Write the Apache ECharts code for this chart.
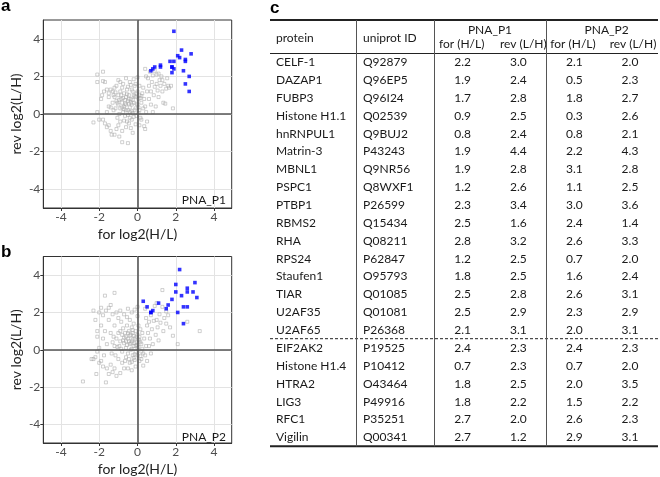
<!DOCTYPE html>
<html><head><meta charset="utf-8">
<script src="https://cdn.jsdelivr.net/npm/echarts@6/dist/echarts.min.js"></script>
<style>html,body{margin:0;padding:0;background:#fff}#c{width:660px;height:477px}</style>
</head><body><div id="c"></div>
<script>
// ---- table data (panel c) ----
const proteins = ['CELF-1','DAZAP1','FUBP3','Histone H1.1','hnRNPUL1','Matrin-3','MBNL1','PSPC1','PTBP1','RBMS2','RHA','RPS24','Staufen1','TIAR','U2AF35','U2AF65','EIF2AK2','Histone H1.4','HTRA2','LIG3','RFC1','Vigilin'];
const uniprotIds = ['Q92879','Q96EP5','Q96I24','Q02539','Q9BUJ2','P43243','Q9NR56','Q8WXF1','P26599','Q15434','Q08211','P62847','O95793','Q01085','Q01081','P26368','P19525','P10412','O43464','P49916','P35251','Q00341'];
const p1For = [2.2,1.9,1.7,0.9,0.8,1.9,1.9,1.2,2.3,2.5,2.8,1.2,1.8,2.5,2.5,2.1,2.4,0.7,1.8,1.8,2.7,2.7];
const p1Rev = [3.0,2.4,2.8,2.5,2.4,4.4,2.8,2.6,3.4,1.6,3.2,2.5,2.5,2.8,2.9,3.1,2.3,2.3,2.5,2.2,2.0,1.2];
const p2For = [2.1,0.5,1.8,0.3,0.8,2.2,3.1,1.1,3.0,2.4,2.6,0.7,1.6,2.6,2.3,2.0,2.4,0.7,2.0,1.5,2.6,2.9];
const p2Rev = [2.0,2.3,2.7,2.6,2.1,4.3,2.8,2.5,3.6,1.4,3.3,2.0,2.4,3.1,2.9,3.1,2.3,2.0,3.5,2.2,2.3,3.1];
const dividerAfter = 16; // rows above dashed line

// ---- axis ticks ----
const tickValues = [-4,-2,0,2,4];

// ---- background proteins (grey) ----
const greyP1 = [
[-2.3,-0.45],[-2.1,0.1],[-2.0,-0.3],[-2.1,2.1],[-1.8,2.25],[-2.1,1.7],[-1.8,1.75],[-1.7,1.7],[-1.75,1.2],[-1.85,1.0],[-1.9,0.8],[-1.6,1.3],[-1.5,1.1],[-1.5,0.9],[-1.4,1.3],[-1.3,1.2],[-1.2,1.4],[-1.1,1.5],[-1.0,1.8],[-0.9,1.7],[-1.25,0.2],[-1.5,0.4],[-1.6,0.1],[-1.8,-0.3],[-1.7,-0.5],[-1.6,-0.7],[-1.5,-0.6],[-1.4,-0.9],[-1.35,-1.1],[-1.2,-1.1],[-1.1,-0.8],[-1.0,-0.6],[-0.95,-1.2],[-0.8,-0.9],[-0.8,-1.5],[-0.5,-1.55],[-0.6,-0.7],[-0.45,-0.5],[-0.3,-0.3],[-0.25,-1.0],[-0.1,-0.55],[0.1,-0.6],[0.35,-0.65],[0.4,-0.8],[0.2,-0.3],
[-1.2,0.9],[-1.1,0.7],[-1.0,1.0],[-1.0,0.5],[-0.9,1.2],[-0.9,0.3],[-0.85,0.8],[-0.8,1.4],[-0.8,0.6],[-0.75,0.1],[-0.7,1.1],[-0.7,0.4],[-0.65,-0.1],[-0.6,0.9],[-0.6,0.5],[-0.55,1.3],[-0.5,0.2],[-0.5,0.7],[-0.45,1.0],[-0.4,0.35],[-0.4,-0.2],[-0.35,0.8],[-0.3,1.3],[-0.3,0.5],[-0.25,0.05],[-0.2,1.0],[-0.2,0.6],[-0.15,1.5],[-0.1,0.3],[-0.1,0.9],[-0.05,-0.1],[0.0,1.2],[0.0,0.5],[0.05,0.8],[0.1,0.2],[0.1,1.0],[0.15,-0.2],[0.2,0.6],[0.25,1.1],[0.3,0.3],[-1.3,0.6],[-1.15,0.3],[-1.05,-0.2],[-0.95,0.0],[-0.9,-0.4],[-0.85,1.0],[-0.65,0.75],[-0.55,-0.4],[-0.45,0.55],[-0.35,1.55],[-0.25,0.75],[-0.15,0.2],[-0.05,1.1],[0.05,0.35],[0.15,0.85],[-1.4,0.35],[-1.25,1.0],[-0.75,1.6],[-0.6,1.9],[-0.4,1.7],[-0.2,1.85],[-0.1,1.6],[0.0,1.95],[0.1,1.5],[0.3,1.4],[0.35,0.8],[0.4,0.4],[0.45,0.1],[0.5,-0.4],[-0.7,0.25],[-0.5,-0.05],[-0.3,0.15],
[-1.15,1.15],[-0.95,0.75],[-0.75,0.85],[-0.65,0.55],[-0.55,1.05],[-0.45,0.8],[-0.35,0.6],[-0.25,1.2],[-0.15,0.95],[-0.05,0.55],[0.05,0.05],[-0.4,0.1],[-0.6,0.2],[-0.8,0.35],[-1.05,0.6],[-0.2,-0.15],[0.2,0.95],[-0.5,1.45],[-0.7,-0.35],[-0.35,-0.75],
[0.4,2.4],[0.45,2.0],[0.55,1.9],[0.6,1.5],[0.7,1.2],[0.75,1.7],[0.8,2.05],[0.85,1.0],[0.9,1.45],[0.95,0.4],[1.0,2.1],[1.0,1.6],[1.05,1.25],[1.1,0.9],[1.15,1.8],[1.2,1.5],[1.25,2.0],[1.3,1.2],[1.35,0.6],[1.4,1.6],[1.45,0.55],[1.5,1.35],[1.55,1.9],[1.6,1.5],[1.65,1.4],[1.75,1.5],[1.85,0.3],[0.6,0.8],[0.7,0.5],[0.8,0.1],[0.5,1.2],[0.65,2.25],[0.9,2.3],[1.1,2.15],[1.3,1.8]
];
const greyP2 = [
[-2.85,-1.7],[-2.15,-1.3],[-1.65,-1.75],[-2.3,-0.5],[-2.2,-0.4],[-2.4,-0.5],[-2.1,-0.1],[-2.0,-0.7],[-2.0,0.1],[-1.9,-0.6],[-1.8,-0.9],[-1.75,-0.3],[-1.6,-1.0],[-1.5,-1.3],[-1.4,-0.8],[-1.3,-1.2],[-1.2,-1.0],[-1.1,-1.4],[-1.0,-0.5],[-0.9,-1.25],[-0.8,-0.7],[-0.7,-1.0],[-0.6,-0.4],[-0.5,-1.0],[-0.4,-0.7],[-0.3,-1.1],[-0.2,-0.45],[-0.1,-0.9],[0.0,-0.3],[0.2,-0.5],[0.3,-0.85],
[-2.3,2.1],[-2.2,1.6],[-2.0,2.0],[-1.9,2.25],[-1.8,1.85],[-1.7,2.9],[-1.65,2.1],[-1.5,2.25],[-1.4,2.4],[-1.2,3.05],[-1.3,1.9],[-1.1,2.0],[-2.1,1.0],[-2.1,0.7],[-1.9,1.3],[-1.8,0.6],[-1.7,1.0],[-1.6,0.3],[-1.5,1.6],[-1.4,0.9],[-1.3,0.4],[-1.2,1.3],[-1.1,0.6],[-1.0,1.7],[-0.95,0.2],[-0.9,1.0],[-0.85,1.5],[-0.8,-0.1],[-0.75,0.5],[-0.7,1.9],[-0.65,0.9],[-0.6,0.1],
[-0.55,1.3],[-0.5,0.6],[-0.5,-0.2],[-0.45,1.0],[-0.4,0.3],[-0.4,1.6],[-0.35,0.0],[-0.35,0.8],[-0.3,1.2],[-0.3,0.45],[-0.25,-0.3],[-0.25,0.9],[-0.2,0.2],[-0.2,1.4],[-0.15,0.6],[-0.1,1.0],[-0.1,-0.1],[-0.05,0.4],[0.0,0.8],[0.0,1.8],[0.05,0.15],[0.1,0.5],[0.1,-0.6],[0.15,1.1],[0.2,0.3],[0.25,0.9],[0.3,-0.2],[0.35,0.6],[-0.6,0.7],[-0.7,0.35],[-0.8,0.8],[-0.9,0.45],[-1.0,0.9],[-1.05,0.15],[-1.15,-0.3],[-1.25,0.7],[-1.35,-0.2],[-0.65,-0.6],[-0.55,0.25],[-0.45,-0.5],[-0.15,-0.25],[-0.05,0.7],[0.05,1.3],[0.15,-0.35],[0.25,0.05],[-0.85,0.05],[-0.75,1.15],[-0.55,1.75],[-0.3,2.0],[-0.15,2.15],[0.0,2.3],[-0.5,2.2],[-0.9,2.1],[-0.3,-0.65],[0.4,-0.3],[0.45,0.2],
[-0.45,0.45],[-0.35,0.35],[-0.25,0.55],[-0.15,0.35],[-0.05,0.25],[0.05,0.55],[0.15,0.4],[-0.4,0.75],[-0.2,0.75],[0.0,0.1],[-0.3,0.05],[-0.1,0.2],[0.1,0.7],[-0.6,0.45],[-0.7,0.65],[-0.5,0.9],[-0.25,1.05],[0.2,-0.1],[-0.15,-0.55],[-1.2,0.2],
[0.4,2.2],[0.45,1.7],[0.5,1.3],[0.55,0.9],[0.6,1.5],[0.65,0.6],[0.7,1.85],[0.75,1.1],[0.8,0.3],[0.85,1.55],[0.9,2.35],[0.95,0.8],[1.0,1.6],[1.05,1.2],[1.1,0.5],[1.15,1.9],[1.2,1.45],[1.3,3.2],[1.3,2.3],[1.35,1.0],[1.4,1.7],[1.5,1.4],[1.6,1.85],[1.7,1.2],[1.85,0.75],[2.1,0.3],[2.6,1.5],[3.25,1.0],[0.6,0.2],[0.7,-0.2],[0.5,-0.6],[1.0,2.5],[1.5,2.05]
];

const FONT = 'Lato, "Open Sans", sans-serif';
const chart = echarts.init(document.getElementById('c'), null, {renderer:'canvas'});

function xAx(gi){return {type:'value',gridIndex:gi,min:-4.92,max:4.92,
  axisLine:{show:true,onZero:false,lineStyle:{color:'#333',width:1}},
  axisTick:{show:true,length:3,customValues:tickValues,lineStyle:{color:'#333'}},
  axisLabel:{customValues:tickValues,margin:3,color:'#4d4d4d',fontSize:12,fontFamily:FONT},
  splitLine:{show:true,lineStyle:{color:'#e3e3e3',width:1}},
  name:'for log2(H/L)',nameLocation:'middle',nameGap:19,
  nameTextStyle:{fontSize:14,color:'#222',fontFamily:FONT}};}
function yAx(gi){return {type:'value',gridIndex:gi,min:-5,max:5,
  axisLine:{show:true,onZero:false,lineStyle:{color:'#333',width:1}},
  axisTick:{show:true,length:3,customValues:tickValues,lineStyle:{color:'#333'}},
  axisLabel:{customValues:tickValues,margin:3,color:'#4d4d4d',fontSize:12,fontFamily:FONT},
  splitLine:{show:true,lineStyle:{color:'#e3e3e3',width:1}},
  name:'rev log2(L/H)',nameLocation:'middle',nameGap:20,
  nameTextStyle:{fontSize:14,color:'#222',fontFamily:FONT}};}

function greySeries(gi, data){return {type:'scatter',xAxisIndex:gi,yAxisIndex:gi,data:data,
  symbol:'rect',symbolSize:3,silent:true,
  itemStyle:{color:'rgba(255,255,255,0)',borderColor:'#ababab',borderWidth:0.7},
  markLine:{silent:true,symbol:'none',label:{show:false},
    lineStyle:{color:'#555',width:1.6,type:'solid'},
    data:[{xAxis:0},{yAxis:0}]}};}
function blueSeries(gi, xs, ys){return {type:'scatter',xAxisIndex:gi,yAxisIndex:gi,
  data:xs.map((v,i)=>[v,ys[i]]),symbol:'rect',symbolSize:3.6,silent:true,z:5,
  itemStyle:{color:'#0000ff'}};}

// ---- table graphics ----
const TL=270, TR=658, TOP=20, HEAD=53.5, ROW0=62.3, RH=17.86;
const BOT = ROW0 + (proteins.length-1)*RH + 9;
const vCols=[356.5,434.5,546.5];
const cx={prot:276, uni:363, p1f:462.7, p1r:518.3, p2f:574.3, p2r:630};
const txt=(x,y,s,align,extra)=>Object.assign({type:'text',x:x,y:y,style:{text:s,font:'12px '+FONT,fill:'#1a1a1a',textAlign:align||'left',textVerticalAlign:'middle'}},extra||{});
const line=(x1,y1,x2,y2,w,dash,col)=>({type:'line',shape:{x1:x1,y1:y1,x2:x2,y2:y2},style:{stroke:col||'#222',lineWidth:w,lineDash:dash||null}});
const g=[];
g.push(line(TL,TOP,TR,TOP,2));
g.push(line(TL,HEAD,TR,HEAD,1));
const dashY = ROW0 + (dividerAfter-1)*RH + 8.5;
g.push(line(TL,dashY,TR,dashY,1,[3,2]));
g.push(line(TL,BOT,TR,BOT,2));
vCols.forEach(x=>g.push(line(x,TOP,x,BOT,1,null,'#555')));
g.push(txt(cx.prot,38,'protein'));
g.push(txt(cx.uni,38,'uniprot ID'));
g.push(txt(490,30,'PNA_P1','center'));
g.push(txt(606.7,30,'PNA_P2','center'));
g.push(txt(461.7,44.5,'for (H/L)','center'));
g.push(txt(523.3,44.5,'rev (L/H)','center'));
g.push(txt(573,44.5,'for (H/L)','center'));
g.push(txt(633,44.5,'rev (L/H)','center'));
proteins.forEach((p,i)=>{
  const y=ROW0+i*RH;
  g.push(txt(cx.prot,y,p));
  g.push(txt(cx.uni,y,uniprotIds[i]));
  g.push(txt(cx.p1f,y,p1For[i].toFixed(1),'center'));
  g.push(txt(cx.p1r,y,p1Rev[i].toFixed(1),'center'));
  g.push(txt(cx.p2f,y,p2For[i].toFixed(1),'center'));
  g.push(txt(cx.p2r,y,p2Rev[i].toFixed(1),'center'));
});
// panel letters and panel tags
const bold=(x,y,s)=>({type:'text',x:x,y:y,style:{text:s,font:'bold 17px "Liberation Sans", Arial, sans-serif',fill:'#000',textVerticalAlign:'top'}});
g.push(bold(1,-2,'a'));
g.push(bold(1,244,'b'));
g.push(bold(270,0,'c'));
g.push(txt(226,200,'PNA_P1','right',{z:10}));
g.push(txt(226,437,'PNA_P2','right',{z:10}));

chart.setOption({
  animation:false,
  backgroundColor:'#fff',
  grid:[
    {left:43.3,top:20,width:188.4,height:188,show:true,borderColor:'#333',borderWidth:1},
    {left:43.3,top:256.5,width:188.4,height:188,show:true,borderColor:'#333',borderWidth:1}
  ],
  xAxis:[xAx(0),xAx(1)],
  yAxis:[yAx(0),yAx(1)],
  series:[greySeries(0,greyP1),blueSeries(0,p1For,p1Rev),greySeries(1,greyP2),blueSeries(1,p2For,p2Rev)],
  graphic:g
});
</script></body></html>
